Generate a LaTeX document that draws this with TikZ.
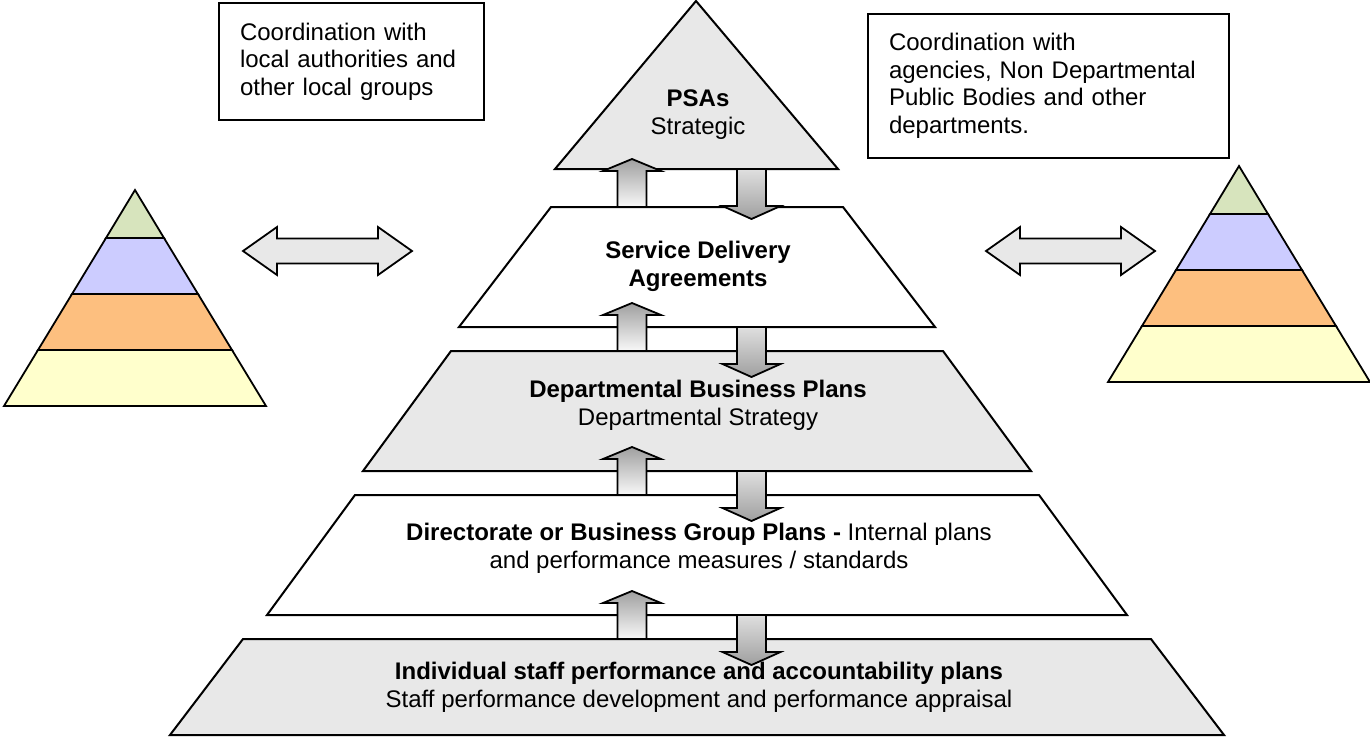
\documentclass[tikz,border=0pt]{standalone}
\usepackage{fontspec}
\setmainfont{Liberation Sans}
\definecolor{layergray}{HTML}{E8E8E8}
\definecolor{bandgreen}{HTML}{D7E4BD}
\definecolor{bandblue}{HTML}{CCCCFF}
\definecolor{bandorange}{HTML}{FDBF7F}
\definecolor{bandyellow}{HTML}{FFFFCC}
\tikzset{
  layer/.style={draw, line width=2pt},
  lbl/.style={align=center, inner sep=0pt},
  infobox/.style={draw, line width=2pt, align=left, inner xsep=21pt, inner ysep=0pt, anchor=north west},
  uparrow/.pic={
    \draw[line width=1.8pt, top color=gray!75, bottom color=gray!5]
      (-14.5,0) -- (-14.5,-36) -- (-29,-36) -- (0,-48) -- (29,-36) -- (14.5,-36) -- (14.5,0) -- cycle;
  },
  downarrow/.pic={
    \draw[line width=1.8pt, top color=gray!25, bottom color=gray!75]
      (-14.5,0) -- (-14.5,37) -- (-29,37) -- (0,50) -- (29,37) -- (14.5,37) -- (14.5,0) -- cycle;
  },
  dblarrow/.pic={
    \draw[line width=1.8pt, fill=layergray]
      (0,0) -- (34,-24) -- (34,-12.5) -- (135,-12.5) -- (135,-24) -- (169,0)
      -- (135,24) -- (135,12.5) -- (34,12.5) -- (34,24) -- cycle;
  },
  minipyramid/.pic={
    \filldraw[line width=1.8pt, fill=bandgreen] (0,0) -- (29,48) -- (-29,48) -- cycle;
    \filldraw[line width=1.8pt, fill=bandblue] (-29,48) -- (29,48) -- (63,104) -- (-63,104) -- cycle;
    \filldraw[line width=1.8pt, fill=bandorange] (-63,104) -- (63,104) -- (97,160) -- (-97,160) -- cycle;
    \filldraw[line width=1.8pt, fill=bandyellow] (-97,160) -- (97,160) -- (131,216) -- (-131,216) -- cycle;
  },
}
\begin{document}
\begin{tikzpicture}[x=1pt, y=-1pt, font=\fontsize{24}{27.5}\selectfont]
        \useasboundingbox (0,0) rectangle (1370,736);
        % main pyramid
        \draw[layer, fill=layergray] (696,1) -- (838,169) -- (555,169) -- cycle;
        \draw[layer, fill=white] (551,207) -- (843,207) -- (935,327) -- (459,327) -- cycle;
        \draw[layer, fill=layergray] (451,351) -- (943,351) -- (1031,471) -- (363,471) -- cycle;
        \draw[layer, fill=white] (355,495) -- (1039,495) -- (1127,615) -- (267,615) -- cycle;
        \draw[layer, fill=layergray] (243,639) -- (1151,639) -- (1224,735) -- (170,735) -- cycle;
        % arrows between layers
        \pic (up1) at (632,207) {uparrow};
        \pic (up2) at (632,351) {uparrow};
        \pic (up3) at (632,495) {uparrow};
        \pic (up4) at (632,639) {uparrow};
        \pic (down1) at (751.5,169) {downarrow};
        \pic (down2) at (751.5,327) {downarrow};
        \pic (down3) at (751.5,471) {downarrow};
        \pic (down4) at (751.5,615) {downarrow};
        % labels (base = last line)
        \node[lbl, anchor=base] (psa) at (698,134) {\textbf{PSAs}\\Strategic};
        \node[lbl, anchor=base] (sda) at (698,286) {\textbf{Service Delivery}\\\textbf{Agreements}};
        \node[lbl, anchor=base] (dbp) at (698,425) {\textbf{Departmental Business Plans}\\Departmental Strategy};
        \node[lbl, anchor=base] (dgp) at (699,568) {\textbf{Directorate or Business Group Plans -} Internal plans\\and performance measures / standards};
        \node[lbl, anchor=base] (isp) at (699,707) {\textbf{Individual staff performance and accountability plans}\\Staff performance development and performance appraisal};
        % side pyramids
        \pic (leftpyr) at (135,190) {minipyramid};
        \pic (rightpyr) at (1239,166) {minipyramid};
        \pic (leftdbl) at (243,251) {dblarrow};
        \pic (rightdbl) at (986,251) {dblarrow};
        % coordination boxes
        \node[infobox, minimum width=265pt, minimum height=117pt, text width=223pt] (lbox) at (218,2)
          {Coordination with\\local authorities and\\other local groups};
        \node[infobox, minimum width=361pt, minimum height=144pt, text width=319pt] (rbox) at (867,13)
          {Coordination with\\agencies, Non Departmental\\Public Bodies and other\\departments.};
\end{tikzpicture}
\end{document}
